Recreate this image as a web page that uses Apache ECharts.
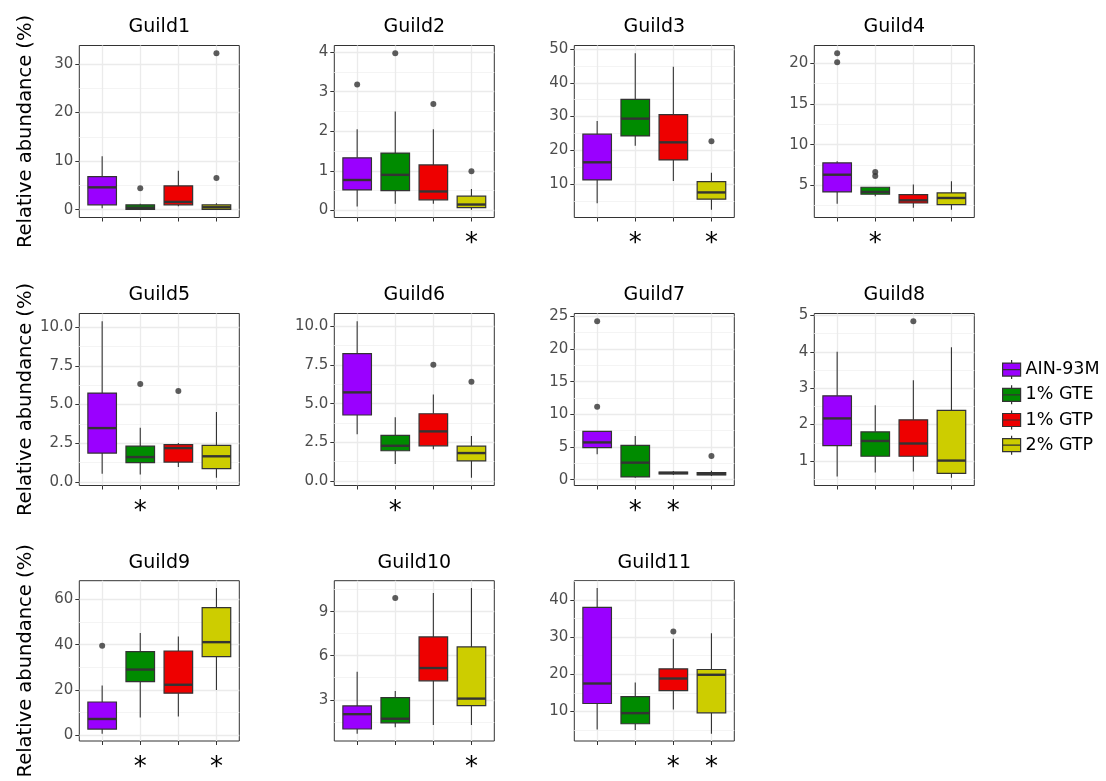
<!DOCTYPE html>
<html><head><meta charset="utf-8">
<script src="https://cdn.jsdelivr.net/npm/echarts@6/dist/echarts.min.js"></script>
<style>html,body{margin:0;padding:0;background:#fff}#chart{width:1106px;height:781px}</style>
</head><body><div id="chart"></div>
<script>
// ---------- data ----------
const groups = ['AIN-93M', '1% GTE', '1% GTP', '2% GTP'];
const guildNames = ['Guild1','Guild2','Guild3','Guild4','Guild5','Guild6','Guild7','Guild8','Guild9','Guild10','Guild11'];

// five-number summaries [min, Q1, median, Q3, max] per group
const guild1Box = [[0.3,1.0,4.6,6.8,11.0],[0.0,0.05,0.4,1.0,1.2],[0.7,1.0,1.6,4.9,8.0],[0.0,0.05,0.5,1.0,1.3]];
const guild1Outliers = [[],[4.4],[],[6.5,32.2]];
const guild1Stars = [0,0,0,0];
const guild1Ticks = [0,10,20,30];

const guild2Box = [[0.1,0.52,0.77,1.33,2.05],[0.17,0.5,0.9,1.45,2.5],[0.17,0.27,0.48,1.15,2.05],[0.02,0.07,0.15,0.36,0.54]];
const guild2Outliers = [[3.18],[3.97],[2.69],[0.99]];
const guild2Stars = [0,0,0,1];
const guild2Ticks = [0,1,2,3,4];

const guild3Box = [[4.4,11.3,16.5,24.8,28.7],[21.4,24.3,29.4,35.1,48.7],[11.0,17.2,22.4,30.6,44.7],[2.5,5.6,7.6,10.8,13.4]];
const guild3Outliers = [[],[],[],[22.7]];
const guild3Stars = [0,1,0,1];
const guild3Ticks = [10,20,30,40,50];

const guild4Box = [[2.74,4.18,6.3,7.76,7.96],[3.65,3.9,4.18,4.76,4.8],[2.25,2.82,3.15,3.85,5.1],[2.0,2.62,3.44,4.06,5.5]];
const guild4Outliers = [[20.12,21.23],[6.13,6.62],[],[]];
const guild4Stars = [0,1,0,0];
const guild4Ticks = [5,10,15,20];

const guild5Box = [[0.54,1.87,3.48,5.74,10.37],[0.49,1.25,1.61,2.32,3.5],[0.97,1.29,2.19,2.41,2.52],[0.28,0.86,1.66,2.37,4.52]];
const guild5Outliers = [[],[6.32],[5.87],[]];
const guild5Stars = [0,1,0,0];
const guild5Ticks = [0,2.5,5,7.5,10];

const guild6Box = [[3.02,4.27,5.73,8.23,10.32],[1.1,1.96,2.28,2.95,4.12],[2.05,2.28,3.21,4.35,5.6],[0.22,1.31,1.81,2.26,2.91]];
const guild6Outliers = [[],[],[7.52],[6.42]];
const guild6Stars = [0,1,0,0];
const guild6Ticks = [0,2.5,5,7.5,10];

const guild7Box = [[3.87,4.89,5.7,7.38,7.4],[0.3,0.41,2.6,5.24,6.67],[0.71,0.87,1.02,1.17,1.32],[0.56,0.71,0.87,1.07,1.37]];
const guild7Outliers = [[11.15,24.24],[],[],[3.61]];
const guild7Stars = [0,1,1,0];
const guild7Ticks = [0,5,10,15,20,25];

const guild8Box = [[0.57,1.42,2.17,2.79,4.0],[0.68,1.13,1.55,1.8,2.53],[0.71,1.13,1.48,2.13,3.22],[0.54,0.66,1.01,2.39,4.13]];
const guild8Outliers = [[],[],[4.84],[]];
const guild8Stars = [0,0,0,0];
const guild8Ticks = [1,2,3,4,5];

const guild9Box = [[0.7,2.75,7.2,14.7,22.0],[7.8,23.7,29.0,36.9,45.1],[8.3,18.6,22.3,37.2,43.6],[20.0,34.7,41.1,56.3,65.0]];
const guild9Outliers = [[39.5],[],[],[]];
const guild9Stars = [0,1,0,1];
const guild9Ticks = [0,20,40,60];

const guild10Box = [[0.69,1.01,2.02,2.58,4.91],[1.13,1.43,1.71,3.15,3.59],[1.28,4.29,5.16,7.28,10.27],[1.28,2.6,3.08,6.6,10.61]];
const guild10Outliers = [[],[9.93],[],[]];
const guild10Stars = [0,0,0,1];
const guild10Ticks = [3,6,9];

const guild11Box = [[5.1,12.1,17.5,38.05,43.3],[4.94,6.63,9.5,13.96,17.75],[10.5,15.56,18.85,21.46,29.6],[3.94,9.58,19.86,21.29,31.05]];
const guild11Outliers = [[],[],[31.56],[]];
const guild11Stars = [0,0,1,1];
const guild11Ticks = [10,20,30,40];

const allBoxes = [guild1Box,guild2Box,guild3Box,guild4Box,guild5Box,guild6Box,guild7Box,guild8Box,guild9Box,guild10Box,guild11Box];
const allOutliers = [guild1Outliers,guild2Outliers,guild3Outliers,guild4Outliers,guild5Outliers,guild6Outliers,guild7Outliers,guild8Outliers,guild9Outliers,guild10Outliers,guild11Outliers];
const allStars = [guild1Stars,guild2Stars,guild3Stars,guild4Stars,guild5Stars,guild6Stars,guild7Stars,guild8Stars,guild9Stars,guild10Stars,guild11Stars];
const allTicks = [guild1Ticks,guild2Ticks,guild3Ticks,guild4Ticks,guild5Ticks,guild6Ticks,guild7Ticks,guild8Ticks,guild9Ticks,guild10Ticks,guild11Ticks];

// ---------- style / layout ----------
const colors = ['#9a00ff', '#008b00', '#ee0000', '#cdcd00'];
const FONT = 'DejaVu Sans';
const colLeft = [79.3, 334.3, 574.3, 814.3];
const rowTop = [45.5, 313.5, 580.7];
const panelW = 160, panelH = 172;
const EDGE = '#333333';

function makeRender(fill) {
  return function (params, api) {
    const x = api.value(0);
    const p = [1, 2, 3, 4, 5].map(d => api.coord([x, api.value(d)]));
    const half = api.size([0.75, 0])[0] / 2;
    const cx = p[0][0];
    return { type: 'group', children: [
      { type: 'line', shape: { x1: cx, y1: p[0][1], x2: cx, y2: p[1][1] }, style: { stroke: EDGE, lineWidth: 1.1 } },
      { type: 'line', shape: { x1: cx, y1: p[3][1], x2: cx, y2: p[4][1] }, style: { stroke: EDGE, lineWidth: 1.1 } },
      { type: 'rect', shape: { x: cx - half, y: p[3][1], width: 2 * half, height: p[1][1] - p[3][1] }, style: { fill: fill, stroke: EDGE, lineWidth: 1.2 } },
      { type: 'line', shape: { x1: cx - half, y1: p[2][1], x2: cx + half, y2: p[2][1] }, style: { stroke: EDGE, lineWidth: 2.4 } }
    ] };
  };
}

const grids = [], xAxes = [], yAxes = [], series = [];
guildNames.forEach((name, i) => {
  const col = i % 4, row = Math.floor(i / 4);
  grids.push({ left: colLeft[col], top: rowTop[row], width: panelW, height: panelH, show: true, borderColor: EDGE, borderWidth: 1, backgroundColor: '#fff' });
  const boxes = allBoxes[i], outs = allOutliers[i], stars = allStars[i], ticks = allTicks[i];
  let lo = Infinity, hi = -Infinity;
  boxes.forEach(b => { lo = Math.min(lo, b[0]); hi = Math.max(hi, b[4]); });
  outs.forEach(o => o.forEach(v => { lo = Math.min(lo, v); hi = Math.max(hi, v); }));
  const pad = 0.05 * (hi - lo);
  const yMin = lo - pad, yMax = hi + pad;
  const step = ticks[1] - ticks[0];
  const minor = [];
  for (let v = ticks[0] - step / 2; v <= yMax; v += step) if (v >= yMin) minor.push(v);
  const decimals = ticks.some(t => t % 1 !== 0) ? 1 : 0;

  xAxes.push({
    type: 'value', gridIndex: i, min: 0.4, max: 4.6, position: 'bottom',
    axisLine: { show: false, onZero: false },
    axisTick: { show: true, customValues: [1, 2, 3, 4], length: 4, lineStyle: { color: EDGE, width: 1 } },
    axisLabel: { customValues: [1, 2, 3, 4], formatter: v => (stars[Math.round(v) - 1] ? '*' : ''), fontSize: 26, color: '#000', margin: 14, fontFamily: FONT },
    splitLine: { show: true, lineStyle: { color: '#ebebeb', width: 1.3 } }
  });
  xAxes.push({
    type: 'value', gridIndex: i, min: 0.4, max: 4.6, position: 'top',
    axisLine: { show: false, onZero: false }, axisTick: { show: false }, axisLabel: { show: false }, splitLine: { show: false },
    name: name, nameLocation: 'middle', nameGap: 8.5,
    nameTextStyle: { fontSize: 19, color: '#000', fontFamily: FONT }
  });
  yAxes.push({
    type: 'value', gridIndex: i, min: yMin, max: yMax, position: 'left',
    axisLine: { show: false, onZero: false },
    axisTick: { show: true, customValues: ticks, length: 4, lineStyle: { color: EDGE, width: 1 } },
    axisLabel: { customValues: ticks, formatter: v => v.toFixed(decimals), fontSize: 15, color: '#4d4d4d', margin: 6, fontFamily: FONT },
    splitLine: { show: true, lineStyle: { color: '#ebebeb', width: 1.3 } },
    name: col === 0 ? 'Relative abundance (%)' : '', nameLocation: 'middle', nameGap: 43,
    nameTextStyle: { fontSize: 19.5, color: '#000', fontFamily: FONT }
  });
  yAxes.push({
    type: 'value', gridIndex: i, min: yMin, max: yMax, position: 'left',
    axisLine: { show: false, onZero: false },
    axisTick: { show: false, customValues: minor }, axisLabel: { show: false },
    splitLine: { show: true, lineStyle: { color: '#f4f4f4', width: 1 } }
  });
  boxes.forEach((b, k) => {
    series.push({
      type: 'custom', name: groups[k], xAxisIndex: 2 * i, yAxisIndex: 2 * i,
      renderItem: makeRender(colors[k]), data: [[k + 1].concat(b)],
      encode: { x: 0, y: [1, 2, 3, 4, 5] }, itemStyle: { color: colors[k] }, silent: true
    });
  });
  const pts = [];
  outs.forEach((o, k) => o.forEach(v => pts.push([k + 1, v])));
  series.push({ type: 'scatter', xAxisIndex: 2 * i, yAxisIndex: 2 * i, data: pts, symbolSize: 6, itemStyle: { color: EDGE }, silent: true, z: 5 });
});

const keyPath = 'path://M9 0 L9 3 M0 3 L18 3 L18 16 L0 16 Z M0 9.5 L18 9.5 M9 16 L9 19';

const chart = echarts.init(document.getElementById('chart'), null, { renderer: 'canvas' });
chart.setOption({
  animation: false,
  backgroundColor: '#fff',
  textStyle: { fontFamily: FONT },
  grid: grids, xAxis: xAxes, yAxis: yAxes, series: series,
  legend: {
    data: groups.map((g, k) => ({ name: g, icon: keyPath, itemStyle: { color: colors[k], borderColor: EDGE, borderWidth: 1.2 } })),
    orient: 'vertical', left: 997, top: 354.5, itemWidth: 18, itemHeight: 19, itemGap: 5,
    selectedMode: false,
    textStyle: { fontSize: 17.5, color: '#000', fontFamily: FONT }
  }
});
</script></body></html>
